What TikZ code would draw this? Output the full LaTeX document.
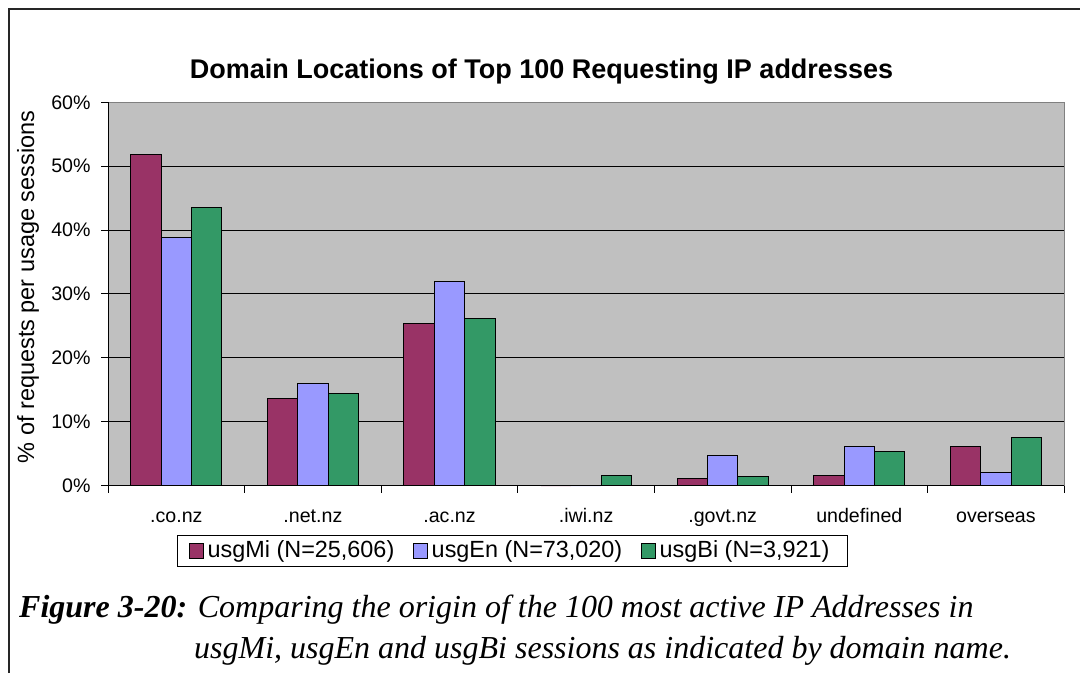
\documentclass[tikz,border=0pt]{standalone}
\usepackage{fontspec}
\setmainfont{Liberation Sans}
\newfontfamily\capfont{Liberation Serif}
\usetikzlibrary{positioning}

\definecolor{mi}{RGB}{153,51,102}
\definecolor{en}{RGB}{153,153,255}
\definecolor{bi}{RGB}{51,153,102}
\definecolor{plotgray}{RGB}{192,192,192}

\begin{document}
\begin{tikzpicture}[x=1pt, y=1pt,
    bar/.style={draw=black, line width=1pt},
    ticklabel/.style={inner sep=0pt, font=\fontsize{19.6}{22}\selectfont},
    legsq/.style={draw=black, line width=1pt, minimum size=14.5pt, inner sep=0pt},
    legtxt/.style={inner sep=0pt, font=\fontsize{23.4}{26}\selectfont},
    captxt/.style={anchor=base west, inner sep=0pt, font=\capfont\itshape\fontsize{32}{38}\selectfont}]

    \useasboundingbox (0,0) rectangle (1080,673);

    % Outer frame
    \draw[line width=2pt, black!85] (9,0) -- (9,664) -- (1080,664);

    % Title
    \node[anchor=base, inner sep=0pt, font=\bfseries\fontsize{27}{32}\selectfont] (title)
        at (541.5,594.7) {Domain Locations of Top 100 Requesting IP addresses};

    % Plot area: one x unit per domain, one y unit per percent
    \begin{scope}[shift={(108,187.3)}, x=136.6pt, y=6.39pt]
        \fill[plotgray] (0,0) rectangle (7,60);
        \draw[line width=1.2pt, black!50] (0,60) -- (7,60) -- (7,0);

        % Grid
        \foreach \p in {10,20,...,50}
            \draw[line width=1pt] (0,\p) -- (7,\p);

        % Bars: domain / usgMi / usgEn / usgBi
        \foreach \i/\m/\e/\b in {0/51.9/38.9/43.6, 1/13.7/16.0/14.5, 2/25.4/32.0/26.1,
                3/0/0/1.56, 4/1.05/4.75/1.4, 5/1.6/6.2/5.4, 6/6.2/2.1/7.6} {
            \draw[bar, fill=mi] (\i+0.1667,0) rectangle (\i+0.3889,\m);
            \draw[bar, fill=en] (\i+0.3889,0) rectangle (\i+0.6111,\e);
            \draw[bar, fill=bi] (\i+0.6111,0) rectangle (\i+0.8333,\b);
        }

        % Axes
        \draw[line width=1pt] (0,60) -- (0,0) -- (7,0);

        % y ticks
        \foreach \p in {0,10,...,60} {
            \draw[line width=1pt] (0,\p) -- ++(-7pt,0pt);
            \node[ticklabel, anchor=east] (ylab\p) at ([xshift=-17.3pt]0,\p) {\p\%};
        }

        % x ticks
        \foreach \i in {0,...,7}
            \draw[line width=1pt] (\i,0) -- ++(0pt,-7pt);
        \foreach \c [count=\i from 0] in {.co.nz,.net.nz,.ac.nz,.iwi.nz,.govt.nz,undefined,overseas}
            \node[ticklabel, anchor=base] (xlab\i) at ([yshift=-37pt]\i+0.5,0) {\c};
    \end{scope}

    % y axis title
    \node[rotate=90, inner sep=0pt, font=\fontsize{23.5}{26}\selectfont] (ytitle)
        at (28,386) {\% of requests per usage sessions};

    % Legend
    \node[draw, line width=1pt, minimum width=669.8pt, minimum height=30.6pt, inner sep=0pt] (legend)
        at (512.6,122) {};
    \node[legsq, fill=mi, right=11.3pt of legend.west] (sqMi) {};
    \node[legtxt, right=3.5pt of sqMi] (txMi) {usgMi (N=25,606)};
    \node[legsq, fill=en, right=18pt of txMi] (sqEn) {};
    \node[legtxt, right=3.5pt of sqEn] (txEn) {usgEn (N=73,020)};
    \node[legsq, fill=bi, right=18pt of txEn] (sqBi) {};
    \node[legtxt, right=3.5pt of sqBi] (txBi) {usgBi (N=3,921)};

    % Caption
    \node[captxt] (cap1) at (19,55.7)
        {\textbf{Figure 3-20:} Comparing the origin of the 100 most active IP Addresses in};
    \node[captxt] (cap2) at (194,14.7)
        {usgMi, usgEn and usgBi sessions as indicated by domain name.};

\end{tikzpicture}
\end{document}
